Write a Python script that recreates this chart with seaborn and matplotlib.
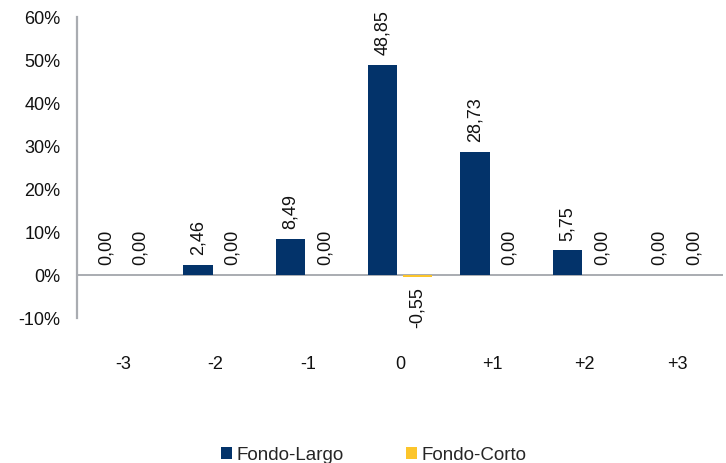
import pandas as pd
import matplotlib.pyplot as plt
import seaborn as sns

# Chart data
categories = ["-3", "-2", "-1", "0", "+1", "+2", "+3"]
fondo_largo = [0.00, 2.46, 8.49, 48.85, 28.73, 5.75, 0.00]
fondo_corto = [0.00, 0.00, 0.00, -0.55, 0.00, 0.00, 0.00]
series_names = ["Fondo-Largo", "Fondo-Corto"]
y_ticks = [-10, 0, 10, 20, 30, 40, 50, 60]

df = pd.DataFrame({
    "cat": categories * 2,
    "valor": fondo_largo + fondo_corto,
    "serie": [series_names[0]] * len(categories) + [series_names[1]] * len(categories),
})

sns.set_style("white")
plt.rcParams["font.family"] = ["Liberation Sans", "DejaVu Sans"]

grey = "#A9ACB1"
palette = {"Fondo-Largo": "#03336A", "Fondo-Corto": "#FCC52B"}

fig = plt.figure(figsize=(7.26, 4.63), dpi=100)
ax = fig.add_axes([0.106, 0.313, 0.89, 0.65])

sns.barplot(data=df, x="cat", y="valor", hue="serie", order=categories,
            hue_order=series_names, palette=palette, width=0.75, gap=0.15,
            saturation=1, linewidth=0, ax=ax)

# value labels, rotated like the original
for cont in ax.containers:
    ax.bar_label(cont, fmt=lambda v: f"{v:.2f}".replace(".", ","),
                 rotation=90, padding=7, fontsize=13, color="#111111")

ax.axhline(0, color=grey, lw=1.4, zorder=0.5)
ax.set_ylim(-10, 60)
ax.set_xlim(-0.5, len(categories) - 0.5)
ax.set_yticks(y_ticks)
ax.set_yticklabels([f"{t}%" for t in y_ticks])
ax.set_xlabel("")
ax.set_ylabel("")

for side in ["top", "right", "bottom"]:
    ax.spines[side].set_visible(False)
ax.spines["left"].set_color(grey)
ax.spines["left"].set_linewidth(1.6)

ax.tick_params(axis="y", length=0, pad=12, labelsize=13, labelcolor="#111111")
ax.tick_params(axis="x", length=0, pad=27, labelsize=13, labelcolor="#111111")

handles, labels = ax.get_legend_handles_labels()
ax.legend(handles, labels, loc="center", bbox_to_anchor=(0.459, -0.455),
          ncol=2, frameon=False, fontsize=13.5, handlelength=0.6, handleheight=0.6,
          handletextpad=0.25, columnspacing=3.3)

fig.savefig("out.png", dpi=100)
